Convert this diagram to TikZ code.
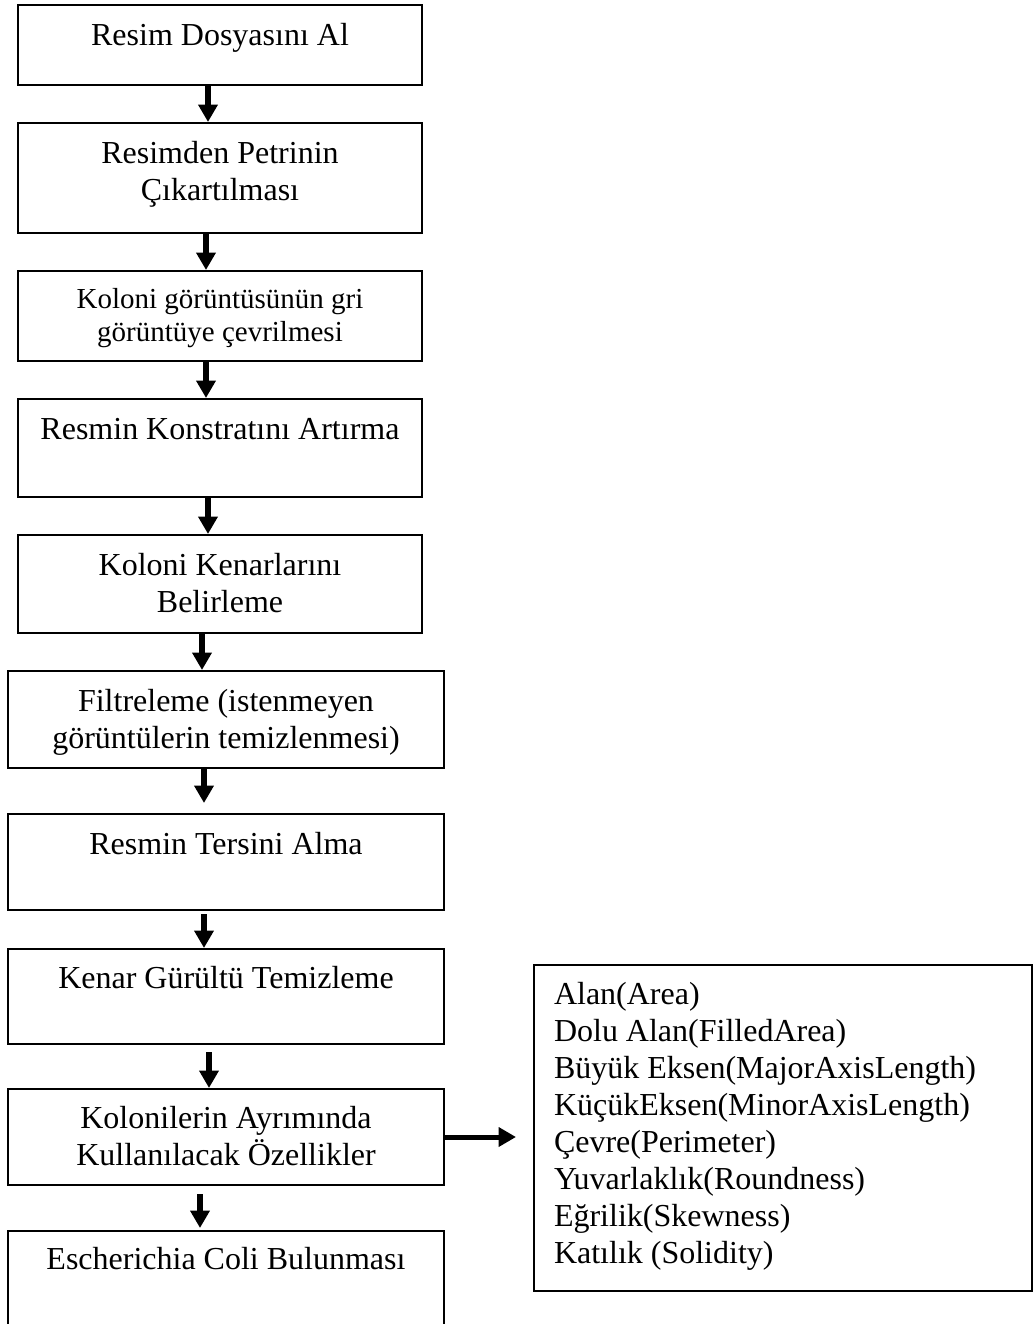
\documentclass[tikz,border=0pt]{standalone}
\usepackage{fontspec}
\setmainfont{Liberation Serif}
\usepackage{tikz}
\usetikzlibrary{arrows.meta}
\newlength{\px}
\setlength{\px}{0.75pt}
\newcommand{\steptext}[4][40]{\parbox[t][#3\px][t]{#2\px}{\centering\rule{0pt}{#1\px}#4}}

\begin{document}
\begin{tikzpicture}[x=0.75pt, y=-0.75pt,
    stage/.style={draw, line width=1.5pt, inner sep=0pt, anchor=north west,
      font=\fontsize{24}{27.75}\selectfont},
    flow/.style={line width=4.5pt, -{Triangle[width=14pt, length=13pt]}}]
  \useasboundingbox (0,0) rectangle (1035,1324);

  % main chain
  \node[stage] (b1) at (17,4) {\steptext{404}{80}{Resim Dosyasını Al}};
  \node[stage] (b2) at (17,122) {\steptext{404}{110}{Resimden Petrinin\\ Çıkartılması}};
  \node[stage, font=\fontsize{21.75}{24.75}\selectfont] (b3) at (17,270)
    {\steptext[37]{404}{90}{Koloni görüntüsünün gri\\ görüntüye çevrilmesi}};
  \node[stage] (b4) at (17,398) {\steptext{404}{98}{Resmin Konstratını Artırma}};
  \node[stage] (b5) at (17,534) {\steptext{404}{98}{Koloni Kenarlarını\\ Belirleme}};
  \node[stage] (b6) at (7,670) {\steptext{436}{97}{Filtreleme (istenmeyen\\ görüntülerin temizlenmesi)}};
  \node[stage] (b7) at (7,813) {\steptext{436}{96}{Resmin Tersini Alma}};
  \node[stage] (b8) at (7,948) {\steptext[39]{436}{95}{Kenar Gürültü Temizleme}};
  \node[stage] (b9) at (7,1088) {\steptext[39]{436}{96}{Kolonilerin Ayrımında\\ Kullanılacak Özellikler}};
  \node[stage] (b10) at (7,1230) {\steptext[38]{436}{110}{Escherichia Coli Bulunması}};

  % feature list
  \node[stage] (feat) at (533,964) {\parbox[t][326\px][t]{498\px}{\raggedright\leftskip=20\px
    \rule{0pt}{39\px}Alan(Area)\\
    Dolu Alan(FilledArea)\\
    Büyük Eksen(MajorAxisLength)\\
    KüçükEksen(MinorAxisLength)\\
    Çevre(Perimeter)\\
    Yuvarlaklık(Roundness)\\
    Eğrilik(Skewness)\\
    Katılık (Solidity)}};

  \draw[flow] ([shift={(-12,0)}]b1.south) -- ([shift={(-12,0)}]b2.north);
  \draw[flow] ([shift={(-14,0)}]b2.south) -- ([shift={(-14,0)}]b3.north);
  \draw[flow] ([shift={(-14,0)}]b3.south) -- ([shift={(-14,0)}]b4.north);
  \draw[flow] ([shift={(-12,0)}]b4.south) -- ([shift={(-12,0)}]b5.north);
  \draw[flow] ([shift={(-18,0)}]b5.south) -- ([shift={(-24,0)}]b6.north);
  \draw[flow] ([shift={(-22,0)}]b6.south) -- ([shift={(-22,-10)}]b7.north);
  \draw[flow] ([shift={(-22,3)}]b7.south) -- ([shift={(-22,0)}]b8.north);
  \draw[flow] ([shift={(-17,7)}]b8.south) -- ([shift={(-17,0)}]b9.north);
  \draw[flow] ([shift={(-26,8)}]b9.south) -- ([shift={(-26,-2)}]b10.north);
  \draw[flow, line width=3.75pt] (b9.east) -- ([shift={(-17,0)}]feat.west |- b9.east);
\end{tikzpicture}
\end{document}
